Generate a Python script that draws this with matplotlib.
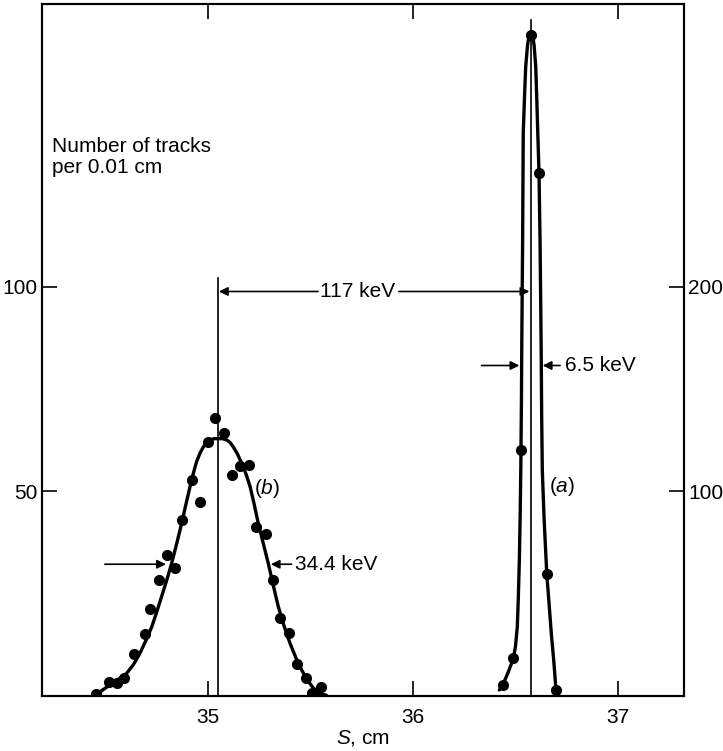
import matplotlib
matplotlib.use("Agg")
import matplotlib.pyplot as plt
import numpy as np

plt.rcParams['font.family'] = ['Liberation Sans', 'DejaVu Sans']
plt.rcParams['mathtext.fontset'] = 'custom'
plt.rcParams['mathtext.rm'] = 'Liberation Sans'
plt.rcParams['mathtext.it'] = 'Liberation Sans:italic'

# peak (b): measured points and drawn curve, left scale (tracks per 0.01 cm)
b_pts_s = [35.033, 35.078, 35.000, 35.156, 35.200, 35.117, 34.919, 34.959, 34.873,
           35.234, 35.280, 34.797, 34.837, 34.758, 35.317, 34.715, 35.350, 34.692,
           35.396, 34.637, 35.435, 34.515, 34.556, 34.590, 35.477, 34.450, 35.505,
           35.529, 35.549]
b_pts_n = [67.8, 64.1, 62.1, 56.1, 56.4, 53.9, 52.7, 47.4, 42.9,
           41.3, 39.4, 34.4, 31.1, 28.2, 28.2, 21.1, 18.9, 15.0,
           15.2, 10.1, 7.6, 3.4, 3.1, 4.4, 4.4, 0.4, 0.5,
           0.5, 2.0]
b_curve_s = [34.450, 34.480, 34.520, 34.560, 34.601, 34.635, 34.666, 34.695, 34.724,
             34.748, 34.772, 34.797, 34.821, 34.846, 34.870, 34.891, 34.911, 34.928,
             34.943, 34.960, 34.976, 34.992, 35.008, 35.028, 35.049, 35.070, 35.090,
             35.106, 35.122, 35.142, 35.163, 35.184, 35.204, 35.224, 35.244, 35.268,
             35.293, 35.318, 35.342, 35.370, 35.399, 35.428, 35.456, 35.485, 35.513,
             35.545, 35.578]
b_curve_n = [0.1, 1.2, 2.6, 3.9, 5.4, 7.6, 10.3, 13.4, 16.8,
             20.4, 24.2, 28.2, 32.3, 37.2, 42.1, 46.8, 51.1, 54.5,
             57.2, 59.3, 60.8, 61.9, 62.5, 62.8, 62.8, 62.8, 62.5,
             61.9, 60.8, 59.1, 56.8, 54.2, 51.1, 46.8, 42.1, 37.3,
             32.3, 26.8, 21.7, 17.0, 12.8, 9.2, 6.2, 3.7, 1.8,
             0.6, 0.0]

# peak (a): right scale
a_pts_s = [36.438, 36.490, 36.526, 36.575, 36.615, 36.653, 36.698]
a_pts_n = [5.1, 18.2, 120.0, 323.0, 255.5, 59.4, 2.7]
a_curve_s = [36.421, 36.438, 36.465, 36.490, 36.500, 36.509, 36.514, 36.519, 36.523,
             36.526, 36.529, 36.531, 36.535, 36.538, 36.545, 36.550, 36.559, 36.566,
             36.575, 36.584, 36.591, 36.599, 36.604, 36.609, 36.615, 36.620, 36.623,
             36.626, 36.628, 36.631, 36.640, 36.653, 36.664, 36.675, 36.687, 36.698,
             36.705]
a_curve_n = [2.7, 5.1, 11.5, 18.2, 24.0, 33.6, 48.0, 66.3, 88.0,
             110.3, 142.0, 173.8, 222.7, 275.1, 295.0, 307.5, 318.1, 322.5,
             324.0, 322.5, 318.1, 307.5, 292.0, 275.1, 255.5, 222.7, 195.0,
             164.0, 137.0, 110.3, 86.0, 59.4, 45.0, 30.4, 17.0, 2.7,
             0.0]

line_a_s, line_a_top = 36.577, 165.2
line_b_s, line_b_top = 35.045, 102.1

xticks = [35, 36, 37]
yticks_left = [50, 100]
yticks_right = [100, 200]

fig = plt.figure(figsize=(7.23, 7.51), dpi=100)
ax = fig.add_axes([42 / 723, 1 - 695.5 / 751, 642 / 723, 691.5 / 751])
ax2 = ax.twinx()

ymax = 169.1
ax.set_xlim(34.188, 37.323)
ax.set_ylim(0, ymax)
ax2.set_ylim(0, 2 * ymax)

lw_curve = 2.4
ax.plot(b_curve_s, b_curve_n, color='black', lw=lw_curve, solid_capstyle='round',
        solid_joinstyle='round')
ax.plot(b_pts_s, b_pts_n, 'o', color='black', ms=7)
ax2.plot(a_curve_s, a_curve_n, color='black', lw=lw_curve, solid_capstyle='round',
         solid_joinstyle='round')
ax2.plot(a_pts_s, a_pts_n, 'o', color='black', ms=7)

ax.plot([line_a_s, line_a_s], [0, line_a_top], color='black', lw=1.2)
ax.plot([line_b_s, line_b_s], [0, line_b_top], color='black', lw=1.2)

for a in (ax, ax2):
    for sp in a.spines.values():
        sp.set_linewidth(1.5)

ax.set_xticks(xticks)
ax.set_yticks(yticks_left)
ax2.set_yticks(yticks_right)
ax.tick_params(axis='x', direction='in', length=11, width=1.2, top=True,
               labelsize=15, pad=9)
ax.tick_params(axis='y', direction='in', length=11, width=1.2, labelsize=15, pad=3)
ax2.tick_params(axis='y', direction='in', length=11, width=1.2, labelsize=15, pad=3)

ax.set_xlabel(r'$\mathit{S}$, cm', fontsize=15, labelpad=1)

fig.text(51.7 / 723, 1 - 157 / 751, 'Number of tracks\nper 0.01 cm', fontsize=15,
         ha='left', va='center', linespacing=1.15)

arw = dict(arrowstyle='-|>', color='black', lw=1.2, mutation_scale=13,
           shrinkA=0, shrinkB=0)

# 117 keV
y117 = 98.8
ax.annotate('', xy=(35.052, y117), xytext=(35.536, y117), arrowprops=arw)
ax.annotate('', xy=(36.568, y117), xytext=(35.931, y117), arrowprops=arw)
ax.text(35.731, y117, '117 keV', fontsize=15, ha='center', va='center')

# 6.5 keV
y65 = 80.7
ax.annotate('', xy=(36.519, y65), xytext=(36.335, y65), arrowprops=arw)
ax.annotate('', xy=(36.633, y65), xytext=(36.718, y65), arrowprops=arw)
ax.text(36.741, y65, '6.5 keV', fontsize=15, ha='left', va='center')

# 34.4 keV
y34 = 32.1
ax.annotate('', xy=(34.793, y34), xytext=(34.495, y34), arrowprops=arw)
ax.annotate('', xy=(35.305, y34), xytext=(35.407, y34), arrowprops=arw)
ax.text(35.423, y34, '34.4 keV', fontsize=15, ha='left', va='center')

ax.text(35.285, 50.7, r'($\mathit{b}$)', fontsize=15, ha='center', va='center')
ax.text(36.727, 51.0, r'($\mathit{a}$)', fontsize=15, ha='center', va='center')

fig.savefig('out.png', dpi=100)
